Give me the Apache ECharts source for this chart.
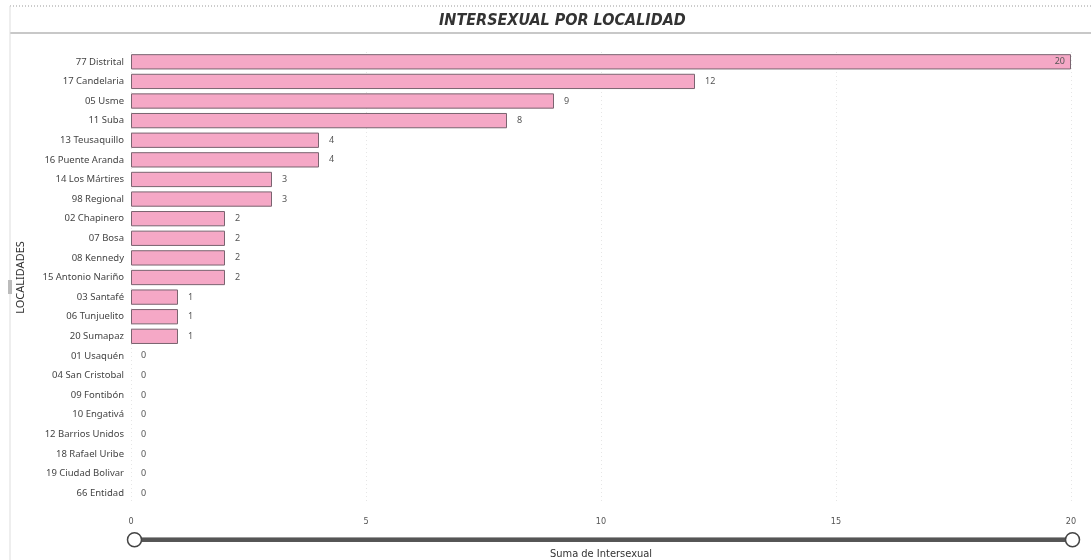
<!DOCTYPE html>
<html><head><meta charset="utf-8">
<script src="https://cdn.jsdelivr.net/npm/echarts@6/dist/echarts.min.js"></script>
<style>html,body{margin:0;padding:0;background:#fff}#c{width:1091px;height:560px}</style>
</head><body><div id="c"></div>
<script>
const categories = ["77 Distrital","17 Candelaria","05 Usme","11 Suba","13 Teusaquillo","16 Puente Aranda","14 Los Mártires","98 Regional","02 Chapinero","07 Bosa","08 Kennedy","15 Antonio Nariño","03 Santafé","06 Tunjuelito","20 Sumapaz","01 Usaquén","04 San Cristobal","09 Fontibón","10 Engativá","12 Barrios Unidos","18 Rafael Uribe","19 Ciudad Bolivar","66 Entidad"];
const values = [20,12,9,8,4,4,3,3,2,2,2,2,1,1,1,0,0,0,0,0,0,0,0];
const xTicks = [0,5,10,15,20];

const barData = values.map(v => v === 0 ? {value: v, itemStyle: {borderWidth: 0}} : v);

const chart = echarts.init(document.getElementById('c'));
chart.setOption({
  animation:false,
  title:{text:'INTERSEXUAL POR LOCALIDAD',left:434,top:8,
    textStyle:{fontFamily:'DejaVu Sans Condensed',fontStyle:'italic',fontWeight:'bold',fontSize:16,color:'#333'}},
  graphic:[
    {type:'line',shape:{x1:10,y1:6,x2:1091,y2:6},style:{stroke:'#999',lineWidth:1,lineDash:[1,2]}},
    {type:'line',shape:{x1:10,y1:33,x2:1091,y2:33},style:{stroke:'#c8c8c8',lineWidth:2}},
    {type:'line',shape:{x1:10,y1:6,x2:10,y2:560},style:{stroke:'#ddd',lineWidth:1}},
    {type:'rect',shape:{x:8,y:280,width:4,height:14},style:{fill:'#bbb'}}
  ],
  grid:{left:131,right:20,top:52,bottom:57,containLabel:false,outerBoundsMode:'none'},
  xAxis:{type:'value',min:0,max:20,interval:5,
    name:'Suma de Intersexual',nameLocation:'middle',nameGap:46,
    nameTextStyle:{fontFamily:'DejaVu Sans Condensed',fontSize:11,color:'#333'},
    axisLine:{show:false},axisTick:{show:false},
    axisLabel:{fontFamily:'DejaVu Sans Condensed',fontSize:9,color:'#555',margin:14,
      formatter:v=>xTicks.includes(v)?String(v):''},
    splitLine:{show:true,lineStyle:{color:'#e6e6e6',type:[1,3]}}},
  yAxis:{type:'category',data:categories,inverse:true,
    name:'LOCALIDADES',nameLocation:'middle',nameGap:105,nameRotate:90,
    nameTextStyle:{fontFamily:'Noto Sans',fontSize:11,color:'#333'},
    axisLine:{show:false},axisTick:{show:false},
    axisLabel:{fontFamily:'Noto Sans',fontSize:9.5,color:'#444',margin:7}},
  dataZoom:[{type:'slider',xAxisIndex:0,start:0,end:100,
    left:131,right:20,bottom:20,height:4,
    backgroundColor:'#555',borderColor:'#555',fillerColor:'#555',
    dataBackground:{lineStyle:{opacity:0},areaStyle:{opacity:0}},
    selectedDataBackground:{lineStyle:{opacity:0},areaStyle:{opacity:0}},
    handleIcon:'circle',handleSize:14,
    handleStyle:{color:'#fff',borderColor:'#444',borderWidth:1.5},
    moveHandleSize:0,showDetail:false,brushSelect:false,zoomLock:true}],
  series:[{type:'bar',data:barData,barCategoryGap:'22%',
    itemStyle:{color:'#F5A8C6',borderColor:'#7a6470',borderWidth:1},
    label:{show:true,position:'right',distance:10,fontFamily:'Noto Sans',fontSize:9,color:'#555',
      formatter:p=>p.dataIndex===0?'':String(p.value)}},
   {type:'bar',data:values,barGap:'-100%',barCategoryGap:'22%',silent:true,
    itemStyle:{color:'transparent'},
    label:{show:true,position:'insideRight',distance:6,fontFamily:'Noto Sans',fontSize:9,color:'#555',
      formatter:p=>p.dataIndex===0?String(p.value):''}}]
});
</script></body></html>
